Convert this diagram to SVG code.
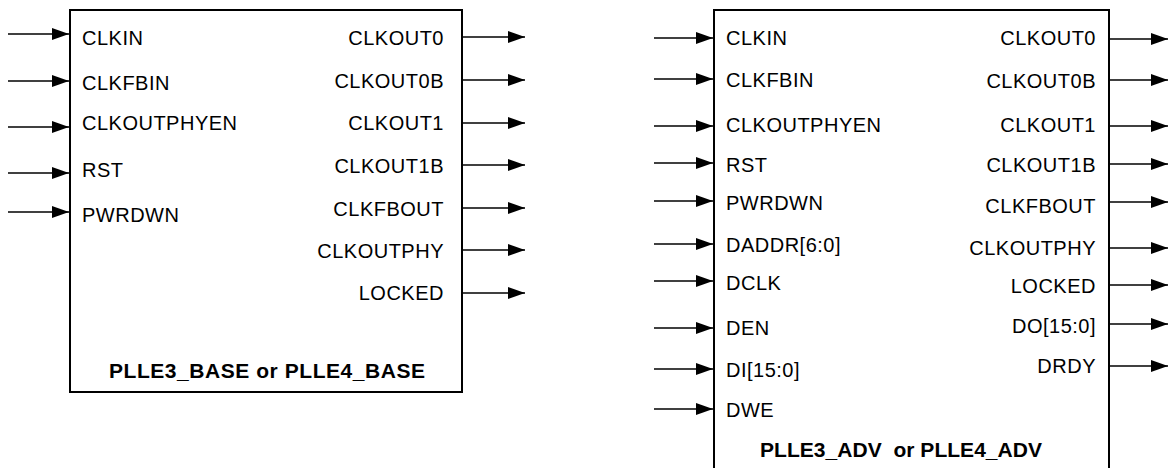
<svg xmlns="http://www.w3.org/2000/svg" width="1172" height="468" viewBox="0 0 1172 468">
<style>
.box{fill:#fff;stroke:#000;stroke-width:2}
.lbl{font-family:"Liberation Sans",Arial,sans-serif;font-size:20px;letter-spacing:0.5px;fill:#000}
.r{text-anchor:end}
.ttl{font-family:"Liberation Sans",Arial,sans-serif;font-size:21px;font-weight:bold;fill:#000}
.w{stroke:#000;stroke-width:1.3;fill:none;marker-end:url(#ah)}
</style>
<defs>
<marker id="ah" markerUnits="userSpaceOnUse" markerWidth="17" markerHeight="12" refX="17" refY="6" orient="auto">
<path d="M0,0 L17,6 L0,12 z" fill="#000"/>
</marker>
</defs>
<rect width="1172" height="468" fill="#fff"/>
<g id="plle_base">
<rect class="box" x="70" y="10" width="392" height="382"/>
<text class="lbl" x="82" y="45">CLKIN</text>
<text class="lbl" x="82" y="90">CLKFBIN</text>
<text class="lbl" x="82" y="130">CLKOUTPHYEN</text>
<text class="lbl" x="82" y="177">RST</text>
<text class="lbl" x="82" y="222">PWRDWN</text>
<text class="lbl r" x="444" y="45">CLKOUT0</text>
<text class="lbl r" x="444" y="88">CLKOUT0B</text>
<text class="lbl r" x="444" y="130">CLKOUT1</text>
<text class="lbl r" x="444" y="173">CLKOUT1B</text>
<text class="lbl r" x="444" y="216">CLKFBOUT</text>
<text class="lbl r" x="444" y="258">CLKOUTPHY</text>
<text class="lbl r" x="444" y="300">LOCKED</text>
<text class="ttl" x="109" y="378" textLength="316" lengthAdjust="spacing">PLLE3_BASE or PLLE4_BASE</text>
</g>
<g id="plle_adv">
<rect class="box" x="714" y="10" width="395" height="470"/>
<text class="lbl" x="726" y="45">CLKIN</text>
<text class="lbl" x="726" y="87">CLKFBIN</text>
<text class="lbl" x="726" y="132">CLKOUTPHYEN</text>
<text class="lbl" x="726" y="172">RST</text>
<text class="lbl" x="726" y="210">PWRDWN</text>
<text class="lbl" x="726" y="252">DADDR[6:0]</text>
<text class="lbl" x="726" y="290">DCLK</text>
<text class="lbl" x="726" y="335">DEN</text>
<text class="lbl" x="726" y="377">DI[15:0]</text>
<text class="lbl" x="726" y="417">DWE</text>
<text class="lbl r" x="1096" y="45">CLKOUT0</text>
<text class="lbl r" x="1096" y="88">CLKOUT0B</text>
<text class="lbl r" x="1096" y="132">CLKOUT1</text>
<text class="lbl r" x="1096" y="172">CLKOUT1B</text>
<text class="lbl r" x="1096" y="213">CLKFBOUT</text>
<text class="lbl r" x="1096" y="255">CLKOUTPHY</text>
<text class="lbl r" x="1096" y="293">LOCKED</text>
<text class="lbl r" x="1096" y="333">DO[15:0]</text>
<text class="lbl r" x="1096" y="373">DRDY</text>
<text class="ttl" x="760" y="457" textLength="282" lengthAdjust="spacing" xml:space="preserve">PLLE3_ADV  or PLLE4_ADV</text>
</g>
<g id="connectors">
<line class="w" x1="8" y1="34" x2="69" y2="34"/>
<line class="w" x1="8" y1="81" x2="69" y2="81"/>
<line class="w" x1="8" y1="127" x2="69" y2="127"/>
<line class="w" x1="8" y1="173" x2="69" y2="173"/>
<line class="w" x1="8" y1="212" x2="69" y2="212"/>
<line class="w" x1="463" y1="37" x2="525" y2="37"/>
<line class="w" x1="463" y1="80" x2="525" y2="80"/>
<line class="w" x1="463" y1="123" x2="525" y2="123"/>
<line class="w" x1="463" y1="165" x2="525" y2="165"/>
<line class="w" x1="463" y1="208" x2="525" y2="208"/>
<line class="w" x1="463" y1="250" x2="525" y2="250"/>
<line class="w" x1="463" y1="293" x2="525" y2="293"/>
<line class="w" x1="654" y1="38" x2="713" y2="38"/>
<line class="w" x1="654" y1="79" x2="713" y2="79"/>
<line class="w" x1="654" y1="126" x2="713" y2="126"/>
<line class="w" x1="654" y1="163" x2="713" y2="163"/>
<line class="w" x1="654" y1="201" x2="713" y2="201"/>
<line class="w" x1="654" y1="244" x2="713" y2="244"/>
<line class="w" x1="654" y1="281" x2="713" y2="281"/>
<line class="w" x1="654" y1="328" x2="713" y2="328"/>
<line class="w" x1="654" y1="369" x2="713" y2="369"/>
<line class="w" x1="654" y1="409" x2="713" y2="409"/>
<line class="w" x1="1110" y1="39" x2="1168" y2="39"/>
<line class="w" x1="1110" y1="80" x2="1168" y2="80"/>
<line class="w" x1="1110" y1="126" x2="1168" y2="126"/>
<line class="w" x1="1110" y1="164" x2="1168" y2="164"/>
<line class="w" x1="1110" y1="202" x2="1168" y2="202"/>
<line class="w" x1="1110" y1="248" x2="1168" y2="248"/>
<line class="w" x1="1110" y1="285" x2="1168" y2="285"/>
<line class="w" x1="1110" y1="324" x2="1168" y2="324"/>
<line class="w" x1="1110" y1="366" x2="1168" y2="366"/>
</g>
</svg>
